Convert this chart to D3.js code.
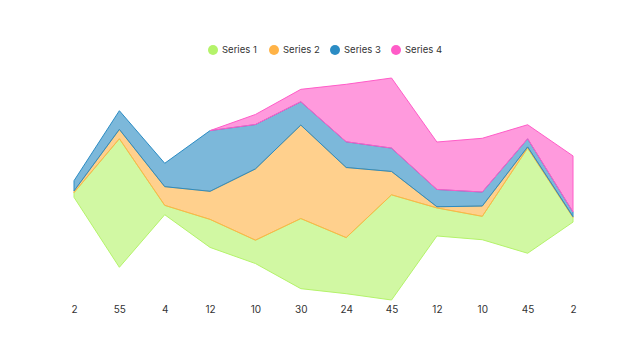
<!DOCTYPE html>
<html><head><meta charset="utf-8">
<script src="https://cdn.jsdelivr.net/npm/d3@7"></script>
<style>body{margin:0;background:#fff}svg{display:block}</style>
</head><body>
<svg id="chart" width="639" height="360"></svg>
<script>
const labels = ["2","55","4","12","10","30","24","45","12","10","45","2"];
const seriesNames = ["Series 1","Series 2","Series 3","Series 4"];
const series1 = [2,55,4,12,10,30,24,45,12,10,45,2];
const series2 = [0.7,4,8,12,30.5,40,30,10,0.5,4.4,0.5,0.3];
const series3 = [4.4,8,10,26,19,10,11,10,7.4,6,3.5,2];
const series4 = [0,0,0,0,4.3,5.3,24.6,30,20.3,23,6,24];
const colors = ["#b4f36a","#ffb347","#2b8cc4","#ff5cc8"];

const data = labels.map((l,i)=>({i, "Series 1":series1[i],"Series 2":series2[i],"Series 3":series3[i],"Series 4":series4[i]}));
const stack = d3.stack().keys(seriesNames).offset(d3.stackOffsetSilhouette).order(d3.stackOrderNone);
const layers = stack(data);

const svg = d3.select("#chart");
const x = d3.scalePoint().domain(d3.range(labels.length)).range([74,573]);
const ext = [d3.min(layers, l=>d3.min(l,d=>d[0])), d3.max(layers, l=>d3.max(l,d=>d[1]))];
const y = d3.scaleLinear().domain(ext).range([300,78]);

const thick = (layer, i) => i >= 0 && i < layer.length && layer[i][1] - layer[i][0] > 0;
svg.append("g").selectAll("path").data(layers).join("path")
  .attr("d", layer => d3.area()
      .defined((d,i)=>thick(layer,i)||thick(layer,i-1)||thick(layer,i+1))
      .x(d=>x(d.data.i)).y0(d=>y(d[0])).y1(d=>y(d[1]))(layer))
  .attr("fill", (d,i)=>colors[i]).attr("fill-opacity",0.62)
  .attr("stroke",(d,i)=>colors[i]).attr("stroke-width",1);

const xAxis = d3.axisBottom(x).tickFormat(i=>labels[i]).tickSize(0).tickPadding(0);
const gx = svg.append("g").attr("transform","translate(0,300)").call(xAxis);
gx.select(".domain").remove();
gx.selectAll("text").attr("font-family","Inter, 'Open Sans', sans-serif").attr("font-size",10).attr("fill","#333").attr("dy","1.25em");

const legendX = [213,274,335,396];
const lg = svg.append("g").selectAll("g").data(seriesNames).join("g")
  .attr("transform",(d,i)=>`translate(${legendX[i]},50)`);
lg.append("circle").attr("r",5).attr("fill",(d,i)=>colors[i]);
lg.append("text").attr("x",9).attr("dy","0.35em").text(d=>d)
  .attr("font-family","Inter, 'Open Sans', sans-serif").attr("font-size",9.5).attr("fill","#333");
</script>
</body></html>
